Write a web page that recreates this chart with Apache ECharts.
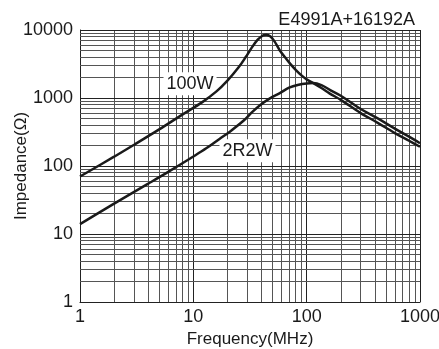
<!DOCTYPE html>
<html>
<head>
<meta charset="utf-8">
<script src="https://cdn.jsdelivr.net/npm/echarts@6/dist/echarts.min.js"></script>
<style>
  html, body { margin: 0; padding: 0; background: #fff; }
  #chart { width: 439px; height: 349px; }
</style>
</head>
<body>
<div id="chart"></div>
<script>
// Impedance vs frequency for two ferrite bead types
var freq100W = [1, 2, 3, 5, 8, 12, 16, 20, 25, 29, 33, 37, 41, 44, 48, 52, 58, 65, 72, 80, 90, 100, 114, 135, 160, 200, 300, 420, 600, 800, 1000];
var imp100W  = [70, 137, 205, 345, 570, 870, 1250, 1800, 2800, 4000, 5600, 7200, 8300, 8500, 8000, 6800, 5000, 3900, 3150, 2600, 2150, 1880, 1660, 1400, 1160, 940, 600, 435, 305, 235, 192];

var freq2R2W = [1, 2, 4, 6, 10, 13, 17, 21, 28, 33, 39, 47, 58, 70, 85, 100, 114, 135, 160, 200, 300, 420, 600, 800, 1000];
var imp2R2W  = [14, 28, 55, 82, 138, 182, 250, 320, 470, 620, 790, 980, 1180, 1420, 1570, 1640, 1660, 1550, 1320, 1080, 690, 505, 355, 270, 216];

var seriesNames = ['100W', '2R2W'];
// label anchor points (frequency MHz, impedance Ω)
var labelAt100W = [9.35, 1620];
var labelAt2R2W = [30.06, 168];

var xDecades = [1, 10, 100];
var yDecades = [1, 10, 100, 1000];
var xMax = 1000, yMax = 10000;
var multipliers = [1, 2, 3, 4, 5, 6, 7, 8, 9];

function zip(a, b) { return a.map(function (v, i) { return [v, b[i]]; }); }

// grid lines at every 1..9 step of each decade
function gridLines(decades, top, key) {
  var out = [];
  decades.forEach(function (d) {
    multipliers.forEach(function (m) {
      var o = {}; o[key] = d * m;
      o.lineStyle = { color: m === 1 ? '#222' : '#555', width: 1, type: 'solid' };
      out.push(o);
    });
  });
  var last = {}; last[key] = top;
  last.lineStyle = { color: '#222', width: 1, type: 'solid' };
  out.push(last);
  return out;
}

var gridData = gridLines(xDecades, xMax, 'xAxis').concat(gridLines(yDecades, yMax, 'yAxis'));

var font = 'Liberation Sans, Arial, Helvetica, sans-serif';
var ink = '#1a1a1a';

function curveLabel(text, coord) {
  return {
    coord: coord,
    symbol: 'rect',
    symbolSize: 1,
    itemStyle: { color: 'rgba(0,0,0,0)' },
    label: {
      show: true, position: 'inside', formatter: text,
      fontFamily: font, fontSize: 18, color: ink,
      backgroundColor: '#fff', padding: [3, 3, 2, 3]
    }
  };
}

var chart = echarts.init(document.getElementById('chart'), null, { renderer: 'canvas' });
chart.setOption({
  animation: false,
  backgroundColor: '#fff',
  title: {
    text: 'E4991A+16192A', right: 19, top: 6,
    textStyle: { fontFamily: font, fontSize: 18, fontWeight: 'normal', color: ink }
  },
  grid: { left: 80, top: 30, width: 340, height: 272, containLabel: false, outerBoundsMode: 'none' },
  xAxis: {
    type: 'log', logBase: 10, min: 1, max: 1000,
    name: 'Frequency(MHz)', nameLocation: 'middle', nameGap: 29,
    nameTextStyle: { fontFamily: font, fontSize: 17, color: ink },
    axisLine: { show: true, lineStyle: { color: '#111', width: 1 } },
    axisTick: { show: false },
    splitLine: { show: false },
    axisLabel: { fontFamily: font, fontSize: 18, color: ink, margin: 6, formatter: function (v) { return String(v); } }
  },
  yAxis: {
    type: 'log', logBase: 10, min: 1, max: 10000,
    name: 'Impedance(Ω)', nameLocation: 'middle', nameGap: 50, nameMoveOverlap: false,
    nameTextStyle: { fontFamily: font, fontSize: 17, color: ink },
    axisLine: { show: true, lineStyle: { color: '#111', width: 1 } },
    axisTick: { show: false },
    splitLine: { show: false },
    axisLabel: { fontFamily: font, fontSize: 18, color: ink, margin: 7, formatter: function (v) { return String(v); } }
  },
  series: [
    {
      type: 'line', name: 'grid', z: 1, silent: true,
      data: [[1, 1]], symbol: 'none', lineStyle: { opacity: 0 },
      markLine: { z: 1, silent: true, symbol: ['none', 'none'], label: { show: false }, animation: false, data: gridData }
    },
    {
      type: 'line', name: 'labels', z: 2, silent: true,
      data: [[1, 1]], symbol: 'none', lineStyle: { opacity: 0 },
      markPoint: { z: 2, silent: true, animation: false, data: [curveLabel(seriesNames[0], labelAt100W), curveLabel(seriesNames[1], labelAt2R2W)] }
    },
    {
      type: 'line', name: seriesNames[0], z: 3,
      data: zip(freq100W, imp100W), smooth: 0.35, symbol: 'none',
      lineStyle: { color: ink, width: 2.5 }
    },
    {
      type: 'line', name: seriesNames[1], z: 3,
      data: zip(freq2R2W, imp2R2W), smooth: 0.35, symbol: 'none',
      lineStyle: { color: ink, width: 2.5 }
    }
  ]
});
</script>
</body>
</html>
